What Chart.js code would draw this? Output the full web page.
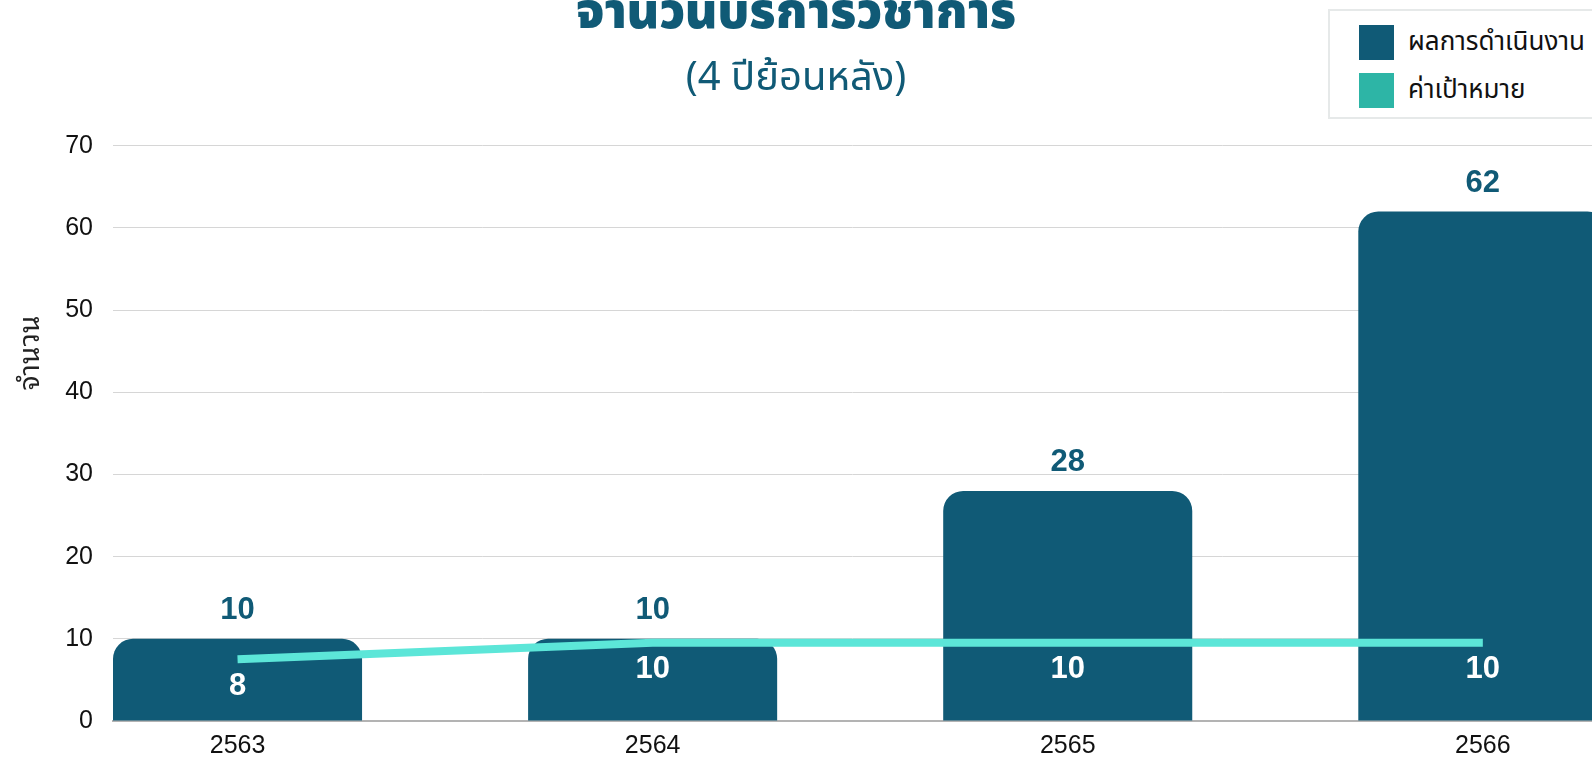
<!DOCTYPE html>
<html>
<head>
<meta charset="utf-8">
<script src="https://cdn.jsdelivr.net/npm/chart.js@4.4.1/dist/chart.umd.min.js"></script>
<style>
  html, body { margin: 0; padding: 0; background: #ffffff; overflow: hidden; }
  #wrap { position: absolute; left: 0; top: 0; width: 1592px; height: 757px; }
  #legend {
    position: absolute; left: 1328px; top: 9px; width: 290px; height: 106px;
    border: 2px solid #e6e9e9; background: #fff; box-sizing: content-box;
    font-family: "Noto Sans Thai", "Kanit", "Prompt", "Sarabun", "IBM Plex Sans Thai", "Anuphan", sans-serif;
  }
  .item { position: absolute; left: 29px; height: 35px; display: flex; align-items: center; white-space: nowrap; }
  .sw { width: 35px; height: 35px; margin-right: 14px; flex: none; }
  .lab { font-size: 26px; color: #111; line-height: 35px; }
</style>
</head>
<body>
<div id="wrap"><canvas id="c"></canvas></div>
<div id="legend"></div>
<script>
// ---- data ----
const years = ["2563", "2564", "2565", "2566"];
const results = [10, 10, 28, 62];        // ผลการดำเนินงาน
const targets = [8, 10, 10, 10];         // ค่าเป้าหมาย
const yTicks = [0, 10, 20, 30, 40, 50, 60, 70];
const seriesNames = ["ผลการดำเนินงาน", "ค่าเป้าหมาย"];
const titleText = "จำนวนบริการวิชาการ";
const subtitleText = "(4 ปีย้อนหลัง)";
const yTitleText = "จำนวน";

// ---- style ----
const BAR = "#105a76";
const LINE = "#5ce6d8";
const LEGEND_TARGET = "#2db5a6";
const THAI = '"Noto Sans Thai", "Kanit", "Prompt", "Sarabun", "IBM Plex Sans Thai", "Anuphan", sans-serif';
const LOOPED = '"Noto Sans Thai Looped", "Noto Serif Thai", "Loma", "Garuda", "Norasi", "Kinnari", "Waree", "Umpush", "Laksaman", "Sawasdee", "Tlwg Typo", sans-serif';
const LAT = '"Liberation Sans", Arial, Helvetica, sans-serif';

// HTML legend
const legend = document.getElementById('legend');
[[seriesNames[0], BAR, 14], [seriesNames[1], LEGEND_TARGET, 62]].forEach(([t, c, top]) => {
  const d = document.createElement('div');
  d.className = 'item'; d.style.top = top + 'px';
  d.innerHTML = '<span class="sw" style="background:' + c + '"></span><span class="lab"></span>';
  d.querySelector('.lab').textContent = t;
  legend.appendChild(d);
});

const lineShift = {
  id: 'lineShift',
  beforeDatasetDraw(chart, args) {
    if (args.index === 1) { chart.ctx.save(); chart.ctx.translate(0, 4); }
  },
  afterDatasetDraw(chart, args) {
    if (args.index === 1) chart.ctx.restore();
  }
};

const labels = {
  id: 'valueLabels',
  afterDatasetsDraw(chart) {
    const ctx = chart.ctx;
    ctx.save();
    ctx.textAlign = 'center';
    ctx.textBaseline = 'middle';
    ctx.font = 'bold 31px ' + LAT;
    chart.getDatasetMeta(0).data.forEach((el, i) => {
      ctx.fillStyle = BAR;
      ctx.fillText(String(results[i]), el.x, el.y - 28);
    });
    chart.getDatasetMeta(1).data.forEach((el, i) => {
      ctx.fillStyle = '#ffffff';
      ctx.fillText(String(targets[i]), el.x, el.y + 31);
    });
    // y axis title
    ctx.save();
    ctx.translate(31, 353);
    ctx.rotate(-Math.PI / 2);
    ctx.font = '28px ' + LOOPED;
    ctx.fillStyle = '#222';
    ctx.fillText(yTitleText, 0, 0);
    ctx.restore();
    ctx.restore();
  }
};

new Chart(document.getElementById('c'), {
  type: 'bar',
  data: {
    datasets: [
      {
        type: 'bar',
        label: seriesNames[0],
        data: years.map((y, i) => ({ x: i, y: results[i] })),
        backgroundColor: BAR,
        borderRadius: { topLeft: 20, topRight: 20, bottomLeft: 0, bottomRight: 0 },
        borderSkipped: 'bottom',
        categoryPercentage: 0.6,
        barPercentage: 1.0,
        order: 1
      },
      {
        type: 'line',
        label: seriesNames[1],
        data: years.map((y, i) => ({ x: i, y: targets[i] })),
        borderColor: LINE,
        backgroundColor: LINE,
        borderWidth: 8,
        borderCapStyle: 'butt',
        pointRadius: 0,
        pointHoverRadius: 0,
        tension: 0,
        fill: false,
        order: 0
      }
    ]
  },
  options: {
    responsive: true,
    maintainAspectRatio: false,
    animation: false,
    devicePixelRatio: 1,
    layout: { padding: { left: 0, right: 0, top: 0, bottom: -14 } },
    plugins: {
      legend: { display: false },
      tooltip: { enabled: false },
      title: {
        display: true,
        text: titleText,
        color: BAR,
        font: { family: THAI, size: 49, weight: 900, lineHeight: 1.2 },
        padding: { top: -11, bottom: 0 }
      },
      subtitle: {
        display: true,
        text: subtitleText,
        color: BAR,
        font: { family: THAI, size: 40, weight: 'normal', lineHeight: 1.2 },
        padding: { top: 10, bottom: 40 }
      }
    },
    scales: {
      x: {
        type: 'linear',
        offset: false,
        min: -0.3,
        max: 3.263,
        grid: { display: false, offset: false, drawTicks: false },
        border: { display: true, color: '#b3b3b3', width: 2 },
        afterBuildTicks(scale) { scale.ticks = years.map((y, i) => ({ value: i })); },
        ticks: {
          autoSkip: false, maxRotation: 0, padding: 10,
          color: '#111', font: { family: LAT, size: 25 },
          callback: (v) => years[v]
        }
      },
      y: {
        min: 0, max: 70,
        afterFit(scale) { scale.width = 113; },
        afterBuildTicks(scale) { scale.ticks = yTicks.map(v => ({ value: v })); },
        grid: { color: '#d6d6d6', lineWidth: 1, drawTicks: false },
        border: { display: false },
        ticks: { padding: 20, color: '#111', font: { family: LAT, size: 25 } }
      }
    }
  },
  plugins: [lineShift, labels]
});
</script>
</body>
</html>
